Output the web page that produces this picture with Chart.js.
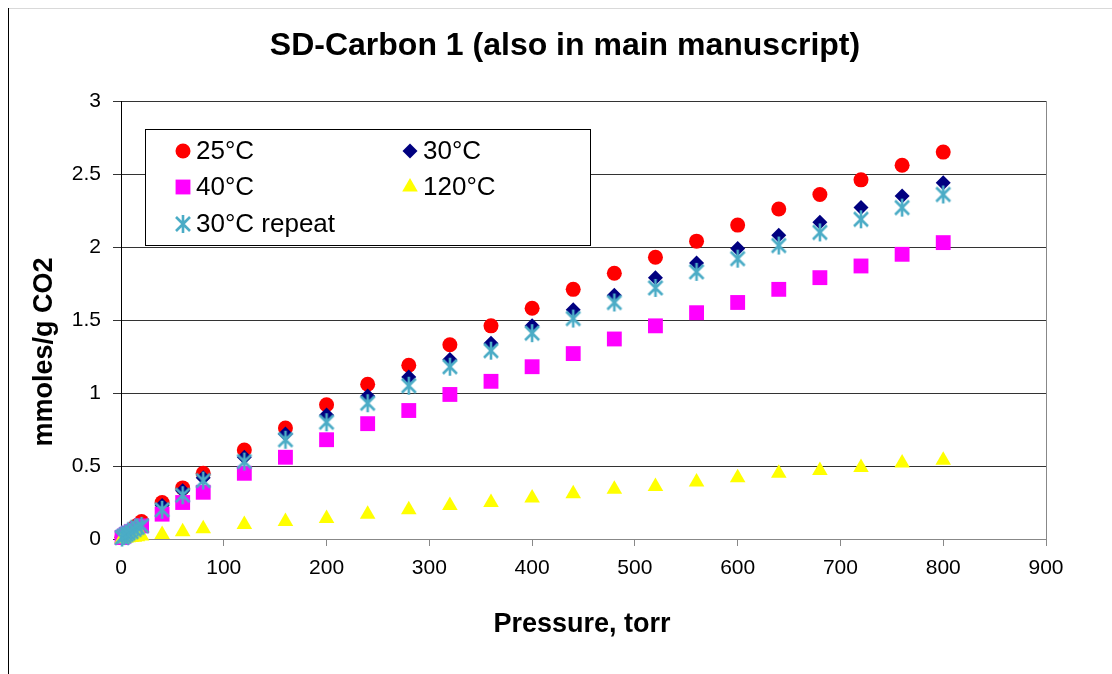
<!DOCTYPE html>
<html>
<head>
<meta charset="utf-8">
<title>SD-Carbon 1 CO2 isotherms</title>
<script src="https://cdn.jsdelivr.net/npm/chart.js@4.4.1/dist/chart.umd.min.js"></script>
<style>
  html, body { margin: 0; padding: 0; background: #fff; }
  #wrap { width: 1112px; height: 674px; position: relative; }
</style>
</head>
<body>
<div id="wrap"><canvas id="iso" width="1112" height="674"></canvas></div>
<script>
// pressure points (torr), shared by every run
const pressures = [1, 3, 5, 7, 10, 13, 16, 20, 40, 60, 80, 120, 160, 200, 240, 280, 320, 360,
                   400, 440, 480, 520, 560, 600, 640, 680, 720, 760, 800];

// uptake, mmol CO2 per g
const t25 = [0.01, 0.02, 0.035, 0.045, 0.06, 0.08, 0.095, 0.12, 0.25, 0.35, 0.45, 0.61, 0.76, 0.92,
             1.06, 1.19, 1.33, 1.46, 1.58, 1.71, 1.82, 1.93, 2.04, 2.15, 2.26, 2.36, 2.46, 2.56, 2.65];
const t30 = [0.01, 0.02, 0.03, 0.04, 0.055, 0.07, 0.085, 0.10, 0.23, 0.33, 0.42, 0.56, 0.72, 0.85,
             0.98, 1.11, 1.23, 1.34, 1.46, 1.57, 1.67, 1.79, 1.89, 1.99, 2.08, 2.17, 2.27, 2.35, 2.44];
const t40 = [0.01, 0.02, 0.03, 0.04, 0.05, 0.06, 0.07, 0.09, 0.17, 0.25, 0.32, 0.45, 0.56, 0.68,
             0.79, 0.88, 0.99, 1.08, 1.18, 1.27, 1.37, 1.46, 1.55, 1.62, 1.71, 1.79, 1.87, 1.95, 2.03];
const t120 = [0.002, 0.004, 0.006, 0.008, 0.01, 0.012, 0.015, 0.02, 0.03, 0.05, 0.07, 0.10, 0.12, 0.14,
              0.17, 0.20, 0.23, 0.25, 0.28, 0.31, 0.34, 0.36, 0.39, 0.42, 0.45, 0.47, 0.49, 0.52, 0.54];
const t30r = [0.01, 0.02, 0.03, 0.04, 0.05, 0.065, 0.08, 0.09, 0.20, 0.30, 0.40, 0.53, 0.68, 0.80,
              0.93, 1.05, 1.18, 1.29, 1.41, 1.51, 1.62, 1.72, 1.83, 1.92, 2.01, 2.10, 2.19, 2.27, 2.36];

const seriesNames = ["25°C", "30°C", "40°C", "120°C", "30°C repeat"];
const chartTitle = "SD-Carbon 1 (also in main manuscript)";
const yTitle = "mmoles/g CO2";
const xTitle = "Pressure, torr";

// star marker: an X with a vertical stroke through it
function makeStar(color) {
    const c = document.createElement("canvas");
    c.width = 20;
    c.height = 20;
    const g = c.getContext("2d");
    g.strokeStyle = color;
    g.lineWidth = 2.6;
    g.lineCap = "butt";
    g.beginPath();
    g.moveTo(3, 3); g.lineTo(17, 17);
    g.moveTo(17, 3); g.lineTo(3, 17);
    g.moveTo(10, 1); g.lineTo(10, 19);
    g.stroke();
    return c;
}
const starIcon = makeStar("#4BACC6");

function toPoints(values) {
    return pressures.map((p, i) => ({ x: p, y: values[i] }));
}

function series(label, values, color, style, radius, order) {
    return {
        label: label,
        data: toPoints(values),
        pointStyle: style,
        pointRadius: radius,
        pointHoverRadius: radius,
        backgroundColor: color,
        borderColor: color,
        pointBorderWidth: 0,
        showLine: false,
        clip: false,
        order: order
    };
}

const datasets = [
    series(seriesNames[0], t25, "#FF0000", "circle", 7.5, 5),
    series(seriesNames[1], t30, "#000080", "rectRot", 7.5, 4),
    series(seriesNames[2], t40, "#FF00FF", "rect", 10.5, 3),
    series(seriesNames[3], t120, "#FFFF00", "triangle", 9, 2),
    series(seriesNames[4], t30r, "#4BACC6", starIcon, 9, 1)
];

const font = "'Liberation Sans', Arial, sans-serif";

// boxed two-column legend inside the plot
const boxLegend = {
    id: "boxLegend",
    afterDraw(chart) {
        const ctx = chart.ctx;
        const box = { x: 145.5, y: 129.5, w: 445, h: 116 };
        const cols = [183, 410];
        const rows = [151, 187, 224];
        ctx.save();
        ctx.fillStyle = "#fff";
        ctx.fillRect(box.x, box.y, box.w, box.h);
        ctx.strokeStyle = "#000";
        ctx.lineWidth = 1;
        ctx.strokeRect(box.x, box.y, box.w, box.h);
        ctx.font = "26px " + font;
        ctx.textBaseline = "middle";
        chart.data.datasets.forEach((ds, i) => {
            const cx = cols[i % 2];
            const cy = rows[Math.floor(i / 2)];
            ctx.fillStyle = ds.backgroundColor;
            ctx.strokeStyle = ds.borderColor;
            Chart.helpers.drawPoint(ctx, {
                pointStyle: ds.pointStyle,
                radius: ds.pointRadius,
                rotation: 0,
                borderWidth: 0
            }, cx, cy);
            ctx.fillStyle = "#000";
            ctx.fillText(ds.label, cx + 13, cy + 1);
        });
        ctx.restore();
    }
};

// page frame, headings and the right edge of the plot
const frame = {
    id: "frame",
    beforeDraw(chart) {
        const ctx = chart.ctx;
        const a = chart.chartArea;
        ctx.save();
        ctx.strokeStyle = "#d9d9d9";
        ctx.lineWidth = 1;
        ctx.beginPath();
        ctx.moveTo(8, 8.5);
        ctx.lineTo(1112, 8.5);
        ctx.stroke();
        ctx.strokeStyle = "#000";
        ctx.beginPath();
        ctx.moveTo(8.5, 8);
        ctx.lineTo(8.5, 674);
        ctx.stroke();
        ctx.strokeStyle = "#888";
        ctx.beginPath();
        ctx.moveTo(Math.round(a.right) + 0.5, a.top);
        ctx.lineTo(Math.round(a.right) + 0.5, a.bottom);
        ctx.stroke();

        ctx.fillStyle = "#000";
        ctx.textAlign = "center";
        ctx.textBaseline = "middle";
        ctx.font = "bold 32px " + font;
        ctx.fillText(chartTitle, 565, 46);
        ctx.font = "bold 27px " + font;
        ctx.fillText(xTitle, 582, 625);
        ctx.translate(45, 352);
        ctx.rotate(-Math.PI / 2);
        ctx.fillText(yTitle, 0, 0);
        ctx.restore();
    }
};

new Chart(document.getElementById("iso"), {
    type: "scatter",
    data: { datasets: datasets },
    plugins: [frame, boxLegend],
    options: {
        responsive: false,
        animation: false,
        devicePixelRatio: 1,
        layout: { padding: { left: 0, right: 66, top: 101, bottom: 0 } },
        plugins: {
            legend: { display: false },
            tooltip: { enabled: false },
            title: { display: false }
        },
        scales: {
            x: {
                type: "linear",
                min: 0,
                max: 900,
                afterFit: (scale) => { scale.height = 135; },
                ticks: {
                    stepSize: 100,
                    color: "#000",
                    padding: 10,
                    maxRotation: 0,
                    font: { family: font, size: 21 }
                },
                grid: { drawOnChartArea: false, tickLength: 7, color: "#888" },
                border: { color: "#888", width: 1 }
            },
            y: {
                type: "linear",
                min: 0,
                max: 3,
                afterFit: (scale) => { scale.width = 121; },
                ticks: {
                    stepSize: 0.5,
                    color: "#000",
                    padding: 12,
                    font: { family: font, size: 21 },
                    callback: (v) => String(Number(v.toFixed(1)))
                },
                grid: { tickLength: 8, color: "#333" },
                border: { color: "#000", width: 1 }
            }
        }
    }
});
</script>
</body>
</html>
